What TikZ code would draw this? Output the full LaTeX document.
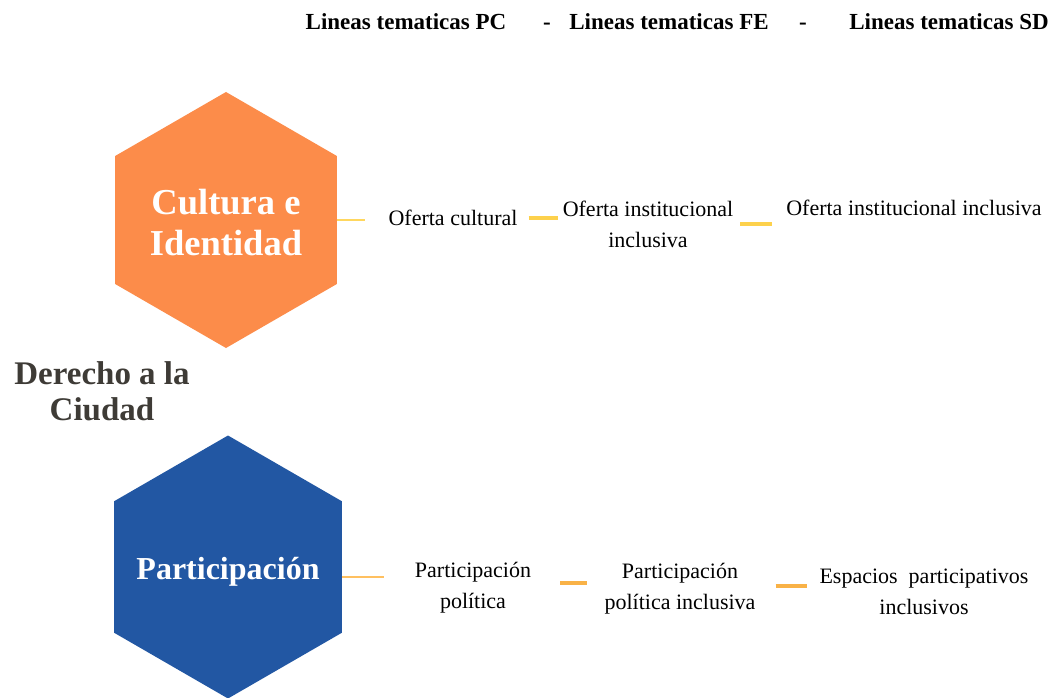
\documentclass[tikz,border=0pt]{standalone}
\usepackage{fontspec}
\setmainfont{Liberation Serif}
\usetikzlibrary{shapes.geometric}
\definecolor{hexorange}{HTML}{FC8C4A}
\definecolor{hexblue}{HTML}{2257A3}
\definecolor{titlegray}{HTML}{3E3B36}
\definecolor{lineyellow}{HTML}{FFD75E}
\definecolor{baryellow}{HTML}{FDD14C}
\definecolor{lineorange}{HTML}{FFC060}
\definecolor{barorange}{HTML}{F9B247}
\tikzset{
  hexnode/.style={regular polygon, regular polygon sides=6, shape border rotate=30,
    inner sep=0pt, outer sep=0pt},
  hextext/.style={text=white, align=center, inner sep=0pt},
  hdr/.style={inner sep=0pt, anchor=base, font=\fontsize{23}{26}\selectfont\bfseries},
  item/.style={inner sep=0pt, align=center, font=\fontsize{22}{31}\selectfont},
  thinline/.style={line width=2pt},
  bar/.style={line width=4.5pt}
}
\begin{document}
\begin{tikzpicture}[x=1pt,y=-1pt]
\useasboundingbox (0,0) rectangle (1052,698);
\fill[white] (0,0) rectangle (1052,698);
% headers
\node[hdr] (hpc) at (406,30) {Lineas tematicas PC};
\node[hdr] (d1) at (547,30) {-};
\node[hdr] (hfe) at (669,30) {Lineas tematicas FE};
\node[hdr] (d2) at (803,30) {-};
\node[hdr] (hsd) at (949,30) {Lineas tematicas SD};
% hexagons
\node[hexnode, fill=hexorange, minimum size=256pt,
  label={[hextext, font=\fontsize{36.5}{41}\selectfont\bfseries, yshift=-3pt]center:Cultura e\\Identidad}] (h1) at (226,220) {};
\node[hexnode, fill=hexblue, minimum size=263pt,
  label={[hextext, font=\fontsize{32}{36}\selectfont\bfseries, yshift=-5pt]center:Participación}] (h2) at (228,567) {};
% title
\node[inner sep=0pt, align=center, text=titlegray,
  font=\fontsize{33}{36}\selectfont\bfseries] (title) at (102,391) {Derecho a la\\Ciudad};
% top row
\node[item] (a1) at (453,218) {Oferta cultural};
\node[item] (a2) at (648,224) {Oferta institucional\\inclusiva};
\node[item] (a3) at (914,208) {Oferta institucional inclusiva};
% bottom row
\node[item] (b1) at (473,588) {Participación\\política};
\node[item] (b2) at (680,589) {Participación\\política inclusiva};
\node[item] (b3) at (924,592) {Espacios\ \ participativos\\inclusivos};
% connectors
\draw[thinline, lineyellow, shorten >=23pt] (h1.east) -- (h1.east -| a1.west);
\draw[bar, baryellow, shorten <=11pt, shorten >=5pt] (a1.east) -- (a1.east -| a2.west);
\draw[bar, baryellow, shorten <=7pt, shorten >=14pt] (a2.east) -- (a2.east -| a3.west);
\draw[thinline, lineorange, shorten >=31pt] ([yshift=-10pt]h2.east) -- ([yshift=-10pt]h2.east -| b1.west);
\draw[bar, barorange, shorten <=29pt, shorten >=17pt] ([yshift=5pt]b1.east) -- ([yshift=5pt]b1.east -| b2.west);
\draw[bar, barorange, shorten <=20pt, shorten >=12pt] ([yshift=3pt]b2.east) -- ([yshift=3pt]b2.east -| b3.west);
\end{tikzpicture}
\end{document}
